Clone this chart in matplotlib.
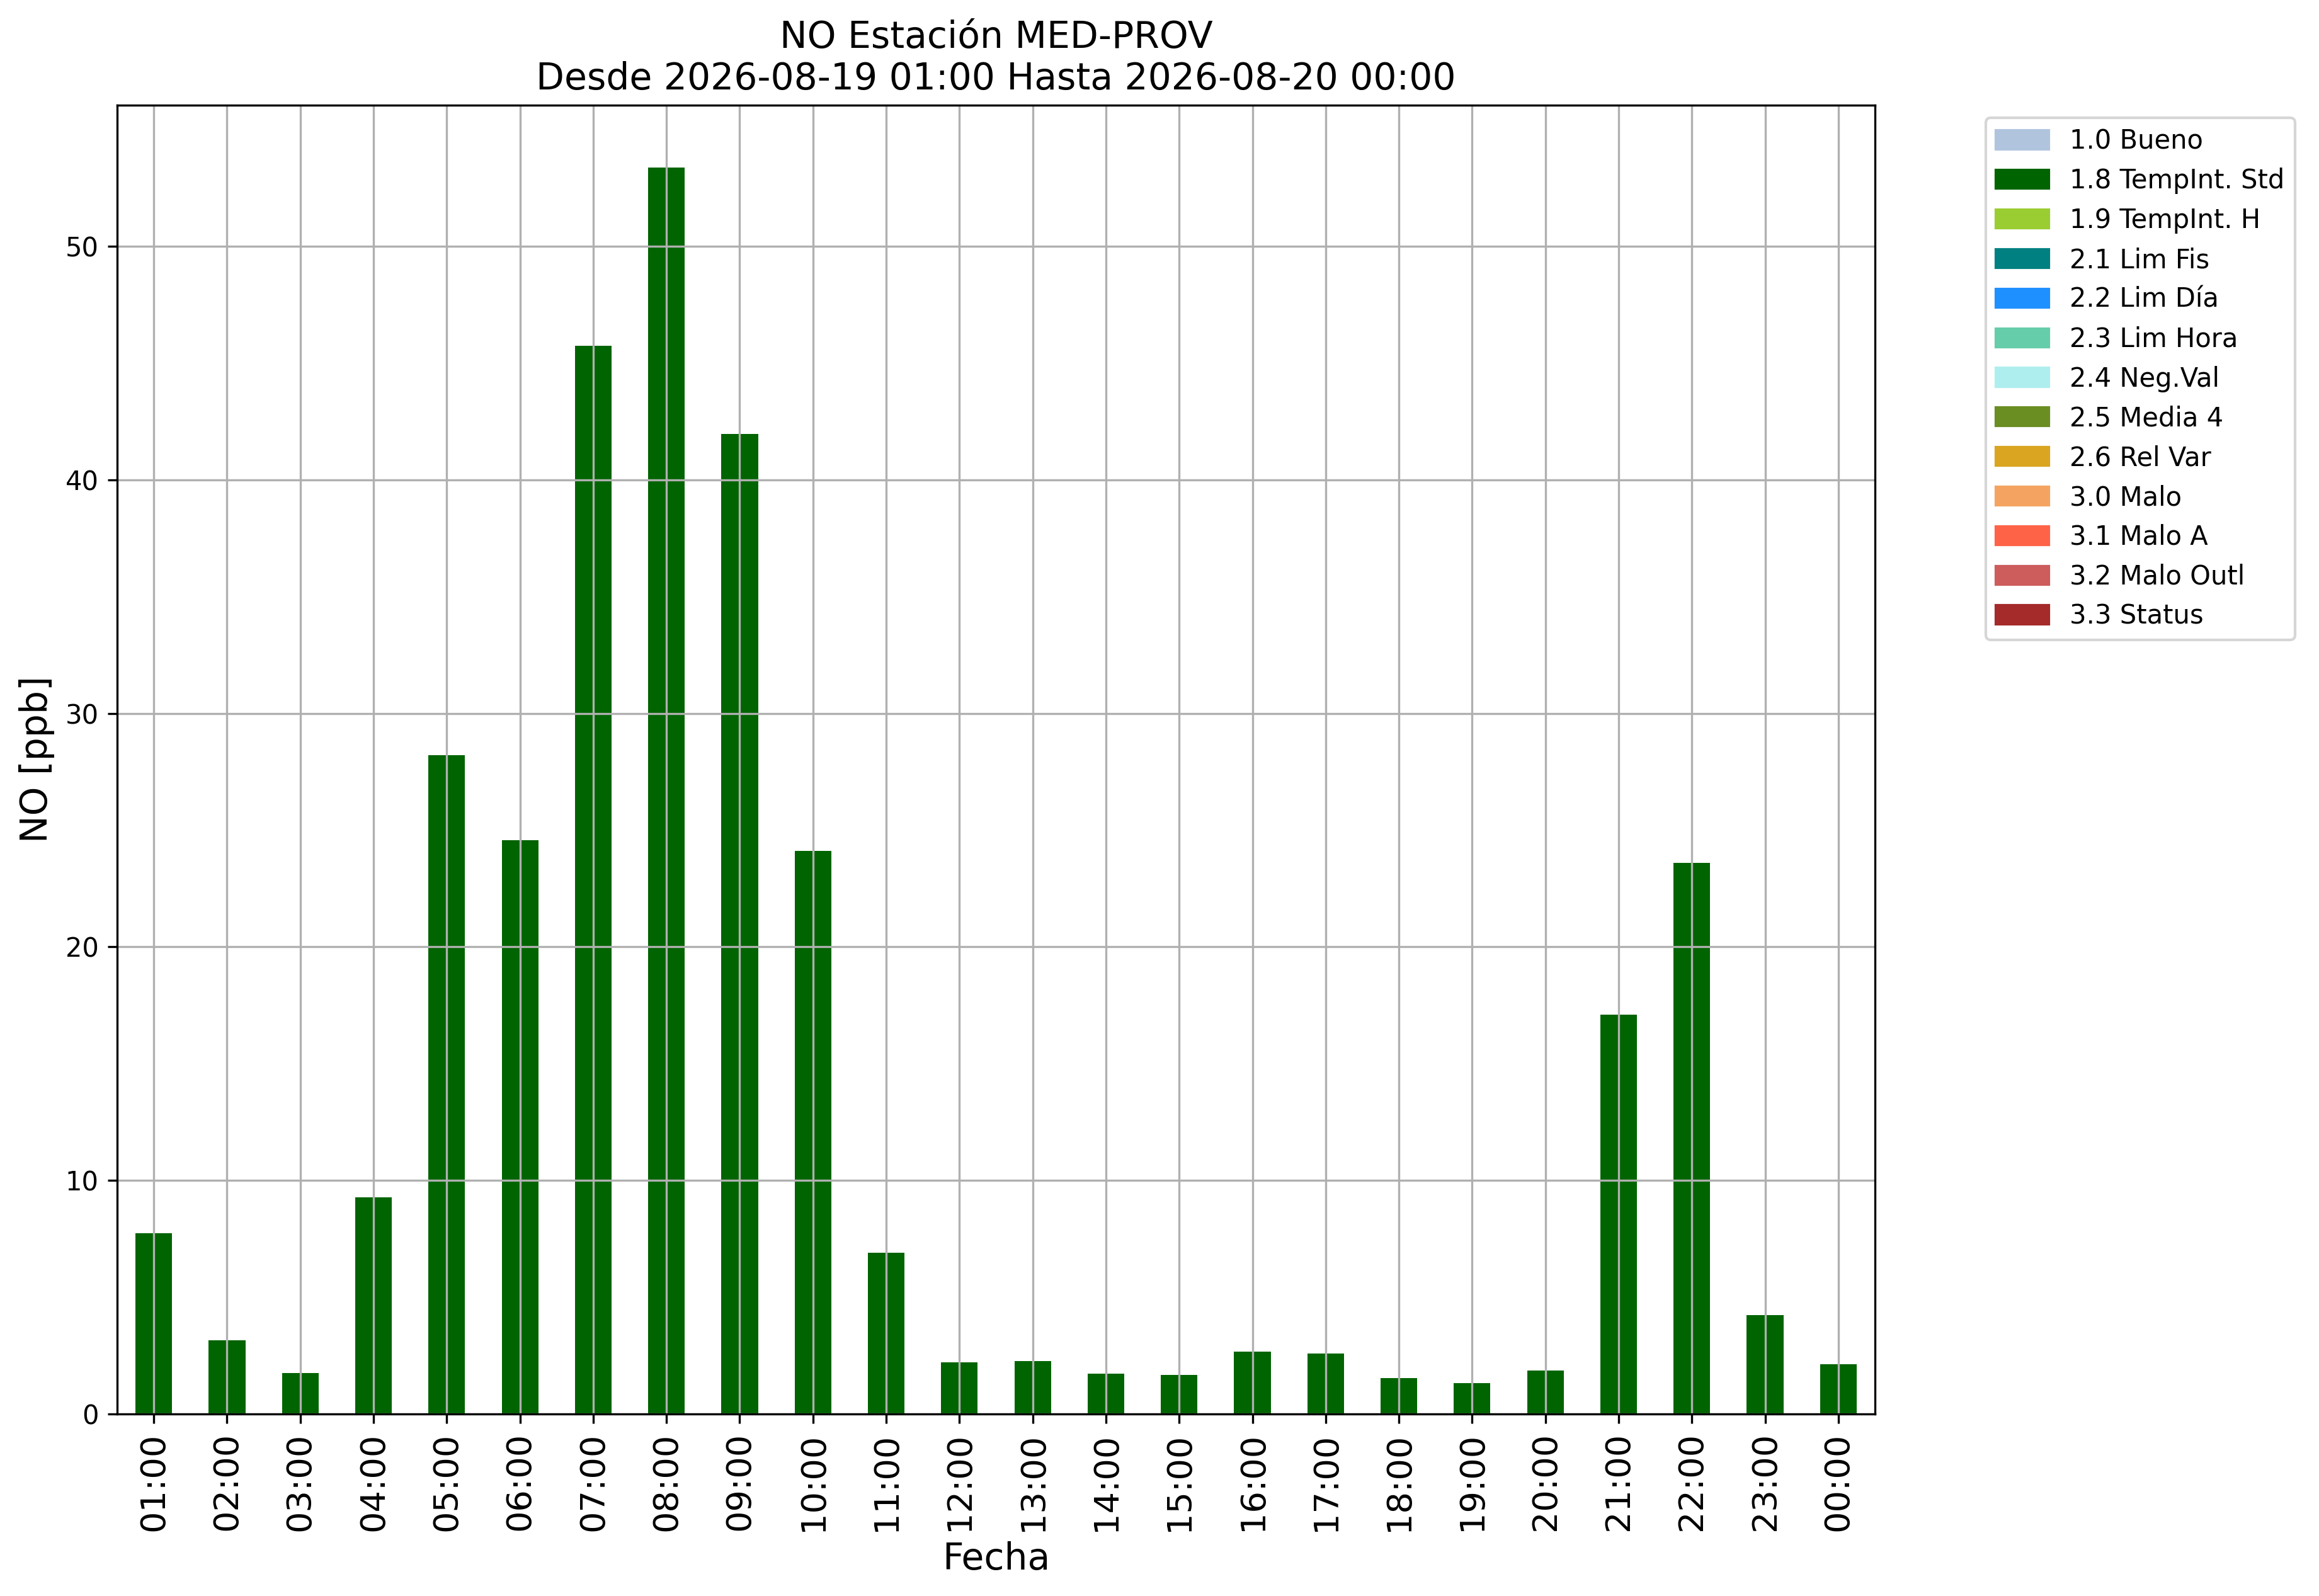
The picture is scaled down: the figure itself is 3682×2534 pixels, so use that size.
import matplotlib
matplotlib.use('Agg')
import matplotlib.pyplot as plt
import matplotlib.patches as mpatches
import numpy as np

# Datos horarios NO (ppb)
horas = ['01:00', '02:00', '03:00', '04:00', '05:00', '06:00', '07:00', '08:00',
         '09:00', '10:00', '11:00', '12:00', '13:00', '14:00', '15:00', '16:00',
         '17:00', '18:00', '19:00', '20:00', '21:00', '22:00', '23:00', '00:00']
valores = [7.74, 3.15, 1.75, 9.27, 28.2, 24.56, 45.75, 53.37,
           41.96, 24.1, 6.9, 2.21, 2.26, 1.72, 1.67, 2.67,
           2.59, 1.54, 1.32, 1.86, 17.1, 23.6, 4.23, 2.13]
flags = ['1.8'] * len(horas)

# Codigos de calidad y colores
etiquetas = ['1.0 Bueno', '1.8 TempInt. Std', '1.9 TempInt. H', '2.1 Lim Fis',
             '2.2 Lim Día', '2.3 Lim Hora', '2.4 Neg.Val', '2.5 Media 4',
             '2.6 Rel Var', '3.0 Malo', '3.1 Malo A', '3.2 Malo Outl', '3.3 Status']
colores = ['lightsteelblue', 'darkgreen', 'yellowgreen', 'teal',
           'dodgerblue', 'mediumaquamarine', 'paleturquoise', 'olivedrab',
           'goldenrod', 'sandybrown', 'tomato', 'indianred', 'brown']
color_flag = {e.split()[0]: c for e, c in zip(etiquetas, colores)}

fig = plt.figure(figsize=(3682 / 300, 2534 / 300), dpi=300)
ax = fig.add_axes([186 / 3682, 1 - 2245 / 2534, (2977 - 186) / 3682, (2245 - 167) / 2534])

x = np.arange(len(horas))
ax.bar(x, valores, width=0.5, color=[color_flag[f] for f in flags])
ax.set_xlim(-0.5, len(horas) - 0.5)
ax.set_xticks(x)
ax.set_xticklabels(horas, rotation=90, fontsize=13)
ax.tick_params(axis='y', labelsize=10)
ax.grid(True)

ax.set_title('NO Estación MED-PROV\nDesde 2026-08-19 01:00 Hasta 2026-08-20 00:00', fontsize=14)
ax.set_xlabel('Fecha', fontsize=14)
ax.set_ylabel('NO [ppb]', fontsize=14)

handles = [mpatches.Patch(color=c, label=e) for e, c in zip(etiquetas, colores)]
ax.legend(handles=handles, loc='upper left', bbox_to_anchor=(1.063, 0.9904),
          borderaxespad=0, fontsize=10)

fig.savefig('out.png', dpi=300)
